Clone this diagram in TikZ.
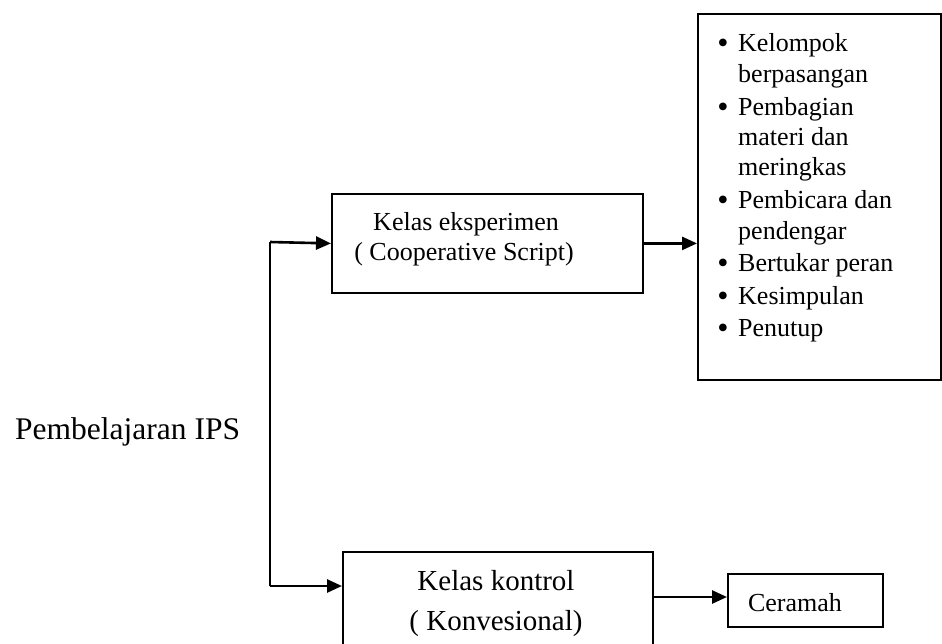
\documentclass[tikz,border=0pt]{standalone}
\usepackage{fontspec}
\setmainfont{Liberation Serif}
\usetikzlibrary{arrows.meta}
\begin{document}
\begin{tikzpicture}[x=1pt,y=-1pt,
  box/.style={draw, line width=1.8pt, inner sep=0pt, anchor=north west},
  txt/.style={font=\fontsize{26}{30}\selectfont, anchor=base, inner sep=0pt},
  item/.style={font=\fontsize{26}{30}\selectfont, anchor=base west, inner sep=0pt},
  bul/.style={font=\fontsize{32}{34}\selectfont, anchor=base, inner sep=0pt},
  big/.style={font=\fontsize{29}{40}\selectfont, anchor=base, inner sep=0pt},
  ttl/.style={font=\fontsize{31.5}{40}\selectfont, anchor=base west, inner sep=0pt},
  arr/.style={line width=2.6pt, -{Triangle[length=15pt,width=13pt]}},
  ]
\useasboundingbox (0,0) rectangle (942,643);
\clip (0,0) rectangle (942,643);

% title
\node[ttl] (title) at (15,439) {Pembelajaran IPS};

% experiment box
\node[box, minimum width=311pt, minimum height=99pt] (exp) at (331,193) {};
\node[txt] (exp1) at (466,230) {Kelas eksperimen};
\node[txt] (exp2) at (464,260) {( Cooperative Script)};

% list box
\node[box, minimum width=243pt, minimum height=366pt] (lst) at (697,13) {};
\node[bul] (b1) at (723,53) {•};
\node[item] (l1) at (738,51) {Kelompok};
\node[item] (l2) at (738,82) {berpasangan};
\node[bul] (b2) at (723,117) {•};
\node[item] (l3) at (738,115) {Pembagian};
\node[item] (l4) at (738,145) {materi dan};
\node[item] (l5) at (738,175) {meringkas};
\node[bul] (b3) at (723,210) {•};
\node[item] (l6) at (738,208) {Pembicara dan};
\node[item] (l7) at (738,239) {pendengar};
\node[bul] (b4) at (723,273) {•};
\node[item] (l8) at (738,271) {Bertukar peran};
\node[bul] (b5) at (723,306) {•};
\node[item] (l9) at (738,304) {Kesimpulan};
\node[bul] (b6) at (723,338) {•};
\node[item] (l10) at (738,336) {Penutup};

% control box
\node[box, minimum width=310pt, minimum height=110pt] (kon) at (342,551) {};
\node[big] (kon1) at (496,590) {Kelas kontrol};
\node[big] (kon2) at (496,630) {( Konvesional)};

% ceramah box
\node[box, minimum width=155pt, minimum height=53pt] (cer) at (727,573) {};
\node[txt] (cer1) at (795,611) {Ceramah};

% connectors
\coordinate (st) at (270,242);
\coordinate (sb) at (270,586);
\draw[line width=1.5pt] (st) -- (sb);
\draw[arr] (st) -- (exp.west);
\draw[arr] (exp.east) -- (exp.east -| lst.west);
\draw[arr] (sb) -- (sb -| kon.west);
\coordinate (ca) at (652,597);
\draw[arr] (ca) -- (ca -| cer.west);
\end{tikzpicture}
\end{document}
